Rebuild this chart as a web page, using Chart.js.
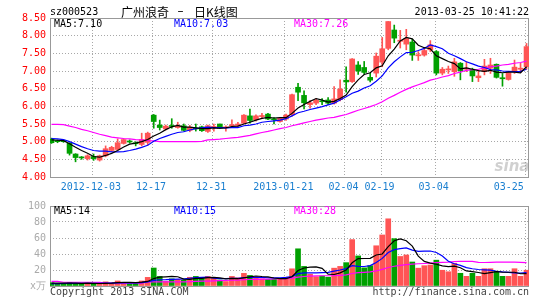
<!DOCTYPE html>
<html>
<head>
<meta charset="utf-8">
<script src="https://cdn.jsdelivr.net/npm/chart.js@4"></script>
<style>
  body { margin: 0; background: #fff; }
  #wrap { position: relative; width: 545px; height: 300px; }
  #wrap canvas { position: absolute; left: 0; }
</style>
</head>
<body>
<div id="wrap">
  <canvas id="kline" width="545" height="196" style="top:0"></canvas>
  <canvas id="volume" width="545" height="104" style="top:196px"></canvas>
</div>
<script>
const dates = [
  "2012-11-22", "2012-11-23", "2012-11-26", "2012-11-27", "2012-11-28", "2012-11-29", "2012-11-30",
  "2012-12-03", "2012-12-04", "2012-12-05", "2012-12-06", "2012-12-07", "2012-12-10", "2012-12-11",
  "2012-12-12", "2012-12-13", "2012-12-14", "2012-12-17", "2012-12-18", "2012-12-19", "2012-12-20",
  "2012-12-21", "2012-12-24", "2012-12-25", "2012-12-26", "2012-12-27", "2012-12-28", "2012-12-31",
  "2013-01-04", "2013-01-07", "2013-01-08", "2013-01-09", "2013-01-10", "2013-01-11", "2013-01-14",
  "2013-01-15", "2013-01-16", "2013-01-17", "2013-01-18", "2013-01-21", "2013-01-22", "2013-01-23",
  "2013-01-24", "2013-01-25", "2013-01-28", "2013-01-29", "2013-01-30", "2013-01-31", "2013-02-01",
  "2013-02-04", "2013-02-05", "2013-02-06", "2013-02-07", "2013-02-08", "2013-02-18", "2013-02-19",
  "2013-02-20", "2013-02-21", "2013-02-22", "2013-02-25", "2013-02-26", "2013-02-27", "2013-02-28",
  "2013-03-01", "2013-03-04", "2013-03-05", "2013-03-06", "2013-03-07", "2013-03-08", "2013-03-11",
  "2013-03-12", "2013-03-13", "2013-03-14", "2013-03-15", "2013-03-18", "2013-03-19", "2013-03-20",
  "2013-03-21", "2013-03-22", "2013-03-25"
];
const tickLabels = ["2012-12-03", "12-17", "12-31", "2013-01-21", "02-04", "02-19", "03-04", "03-25"];

const open = [5.07, 5.03, 5.01, 4.96, 4.65, 4.56, 4.52, 4.58, 4.48, 4.60,
  4.75, 4.78, 4.95, 5.02, 4.97, 4.92, 4.98, 5.75, 5.47, 5.36,
  5.45, 5.40, 5.45, 5.32, 5.38, 5.42, 5.29, 5.40, 5.50, 5.39,
  5.45, 5.46, 5.52, 5.73, 5.62, 5.71, 5.78, 5.65, 5.57, 5.64,
  5.76, 6.54, 6.31, 6.05, 6.09, 6.15, 6.18, 6.09, 6.19, 6.74,
  6.70, 7.17, 7.10, 6.82, 6.94, 7.25, 7.64, 8.16, 7.84, 7.76,
  7.82, 7.43, 7.45, 7.60, 7.55, 6.94, 7.03, 6.98, 7.22, 7.05,
  7.05, 6.81, 6.98, 7.08, 7.19, 6.81, 6.76, 6.98, 7.05, 7.12];
const close = [4.97, 5.00, 5.00, 4.67, 4.55, 4.54, 4.60, 4.52, 4.60, 4.80,
  4.84, 4.97, 5.06, 4.99, 4.94, 5.06, 5.24, 5.57, 5.40, 5.44,
  5.43, 5.45, 5.32, 5.41, 5.36, 5.31, 5.45, 5.42, 5.38, 5.41,
  5.48, 5.50, 5.75, 5.60, 5.73, 5.74, 5.64, 5.62, 5.66, 5.75,
  6.33, 6.40, 6.10, 6.10, 6.17, 6.13, 6.09, 6.21, 6.49, 6.69,
  7.34, 7.00, 6.96, 6.74, 7.42, 7.63, 8.40, 7.93, 7.87, 7.92,
  7.45, 7.46, 7.58, 7.74, 6.94, 7.05, 7.06, 7.26, 7.01, 7.08,
  6.86, 6.86, 7.14, 7.17, 6.82, 6.78, 6.95, 7.11, 7.08, 7.69];
const high = [5.10, 5.05, 5.03, 4.97, 4.66, 4.58, 4.63, 4.65, 4.62, 4.88,
  4.87, 5.08, 5.08, 5.05, 5.00, 5.24, 5.27, 5.77, 5.61, 5.47,
  5.65, 5.55, 5.50, 5.46, 5.50, 5.44, 5.47, 5.50, 5.50, 5.45,
  5.62, 5.55, 5.77, 5.92, 5.76, 5.80, 5.80, 5.68, 5.68, 5.78,
  6.35, 6.65, 6.44, 6.16, 6.22, 6.22, 6.25, 6.56, 6.75, 7.12,
  7.35, 7.27, 7.27, 6.94, 7.51, 7.95, 8.40, 8.30, 8.15, 8.18,
  7.90, 7.55, 7.62, 7.86, 7.58, 7.10, 7.14, 7.36, 7.24, 7.26,
  7.08, 7.03, 7.33, 7.36, 7.20, 6.93, 6.97, 7.31, 7.22, 7.78];
const low = [4.95, 4.97, 4.98, 4.62, 4.43, 4.50, 4.48, 4.47, 4.45, 4.57,
  4.72, 4.76, 4.93, 4.96, 4.88, 4.88, 4.90, 5.38, 5.33, 5.33,
  5.38, 5.38, 5.30, 5.28, 5.30, 5.29, 5.26, 5.30, 5.37, 5.30,
  5.44, 5.43, 5.50, 5.52, 5.58, 5.66, 5.62, 5.50, 5.55, 5.60,
  5.72, 6.16, 5.93, 5.95, 6.05, 6.05, 6.05, 6.06, 6.15, 6.40,
  6.68, 6.90, 6.91, 6.69, 6.83, 7.12, 7.60, 7.80, 7.65, 7.60,
  7.30, 7.30, 7.42, 7.55, 6.89, 6.89, 6.93, 6.85, 6.75, 6.98,
  6.70, 6.70, 6.89, 6.93, 6.80, 6.57, 6.74, 6.93, 6.95, 7.05];

const ma5 = [5.05, 5.04, 5.03, 4.94, 4.84, 4.75, 4.67, 4.58, 4.56, 4.61,
  4.67, 4.75, 4.85, 4.93, 4.96, 5.00, 5.06, 5.16, 5.24, 5.34,
  5.42, 5.46, 5.41, 5.41, 5.39, 5.37, 5.37, 5.39, 5.38, 5.39,
  5.43, 5.44, 5.50, 5.55, 5.61, 5.66, 5.69, 5.67, 5.68, 5.68,
  5.80, 5.95, 6.05, 6.14, 6.22, 6.18, 6.12, 6.14, 6.22, 6.32,
  6.56, 6.75, 6.90, 6.95, 7.09, 7.15, 7.43, 7.62, 7.85, 7.95,
  7.91, 7.73, 7.66, 7.63, 7.43, 7.35, 7.27, 7.21, 7.06, 7.09,
  7.05, 7.01, 6.99, 7.02, 6.97, 6.95, 6.97, 6.97, 6.95, 7.12];
const ma10 = [5.09, 5.08, 5.06, 5.00, 4.93, 4.86, 4.80, 4.75, 4.73, 4.73,
  4.71, 4.71, 4.72, 4.75, 4.79, 4.84, 4.90, 5.01, 5.09, 5.15,
  5.21, 5.26, 5.28, 5.33, 5.37, 5.39, 5.41, 5.40, 5.40, 5.39,
  5.40, 5.40, 5.45, 5.47, 5.50, 5.55, 5.57, 5.59, 5.61, 5.65,
  5.73, 5.82, 5.86, 5.91, 5.95, 5.99, 6.04, 6.09, 6.18, 6.27,
  6.37, 6.43, 6.52, 6.58, 6.71, 6.86, 7.09, 7.26, 7.40, 7.52,
  7.53, 7.58, 7.64, 7.74, 7.69, 7.63, 7.50, 7.43, 7.35, 7.26,
  7.20, 7.14, 7.10, 7.04, 7.03, 7.00, 6.99, 6.98, 6.99, 7.05];
const ma30 = [5.49, 5.49, 5.48, 5.44, 5.40, 5.35, 5.31, 5.26, 5.21, 5.17,
  5.13, 5.11, 5.09, 5.08, 5.06, 5.05, 5.03, 5.02, 5.00, 5.00,
  5.00, 5.00, 5.00, 5.00, 5.00, 5.01, 5.05, 5.06, 5.07, 5.09,
  5.11, 5.12, 5.15, 5.18, 5.22, 5.26, 5.29, 5.33, 5.37, 5.40,
  5.45, 5.49, 5.53, 5.57, 5.61, 5.64, 5.67, 5.69, 5.73, 5.77,
  5.83, 5.89, 5.94, 5.99, 6.05, 6.13, 6.23, 6.31, 6.40, 6.48,
  6.55, 6.61, 6.67, 6.74, 6.78, 6.83, 6.87, 6.93, 6.97, 7.02,
  7.04, 7.05, 7.09, 7.12, 7.14, 7.17, 7.19, 7.22, 7.24, 7.28];

// volume in 万
const volume = [4.0, 2.7, 3.4, 4.5, 3.4, 2.6, 3.4, 2.6, 3.4, 5.2,
  3.7, 6.3, 4.5, 3.4, 3.4, 6.3, 10.8, 22.5, 12.0, 6.0,
  9.0, 8.3, 7.5, 10.9, 12.0, 9.4, 12.0, 10.2, 7.5, 5.6,
  12.0, 10.2, 15.8, 13.2, 11.3, 9.0, 8.3, 8.3, 9.0, 11.0,
  21.5, 46.5, 24.5, 14.7, 11.7, 12.5, 11.0, 22.3, 24.5, 29.2,
  58.0, 37.6, 22.7, 25.4, 50.3, 63.8, 84.0, 59.2, 36.9, 38.8,
  30.0, 22.3, 25.4, 26.2, 32.3, 19.7, 17.8, 28.5, 15.9, 12.1,
  15.9, 12.1, 21.6, 21.6, 18.5, 12.1, 12.1, 21.6, 12.1, 19.7];
const volMa5 = [3.6, 3.6, 3.5, 3.6, 3.6, 3.3, 3.5, 3.3, 3.1, 3.4,
  3.7, 4.2, 4.6, 4.6, 4.3, 4.8, 5.7, 9.3, 11.0, 11.5,
  12.1, 11.6, 8.6, 8.3, 9.5, 9.6, 10.4, 10.9, 10.2, 8.9,
  9.5, 9.1, 10.2, 11.4, 12.5, 11.9, 11.5, 10.0, 9.2, 9.1,
  11.6, 19.3, 22.5, 23.6, 23.8, 22.0, 14.9, 14.4, 16.4, 19.9,
  29.0, 34.3, 34.4, 34.6, 38.8, 40.0, 49.2, 56.5, 58.8, 56.5,
  49.8, 37.4, 30.7, 28.5, 27.2, 25.2, 24.3, 24.9, 22.8, 18.8,
  18.0, 16.9, 15.5, 16.7, 17.9, 17.2, 17.2, 17.2, 15.3, 15.5];
const volMa10 = [3.0, 3.0, 3.1, 3.2, 3.2, 3.3, 3.3, 3.4, 3.4, 3.5,
  3.5, 3.9, 4.0, 3.9, 3.9, 4.2, 5.0, 7.0, 7.8, 7.9,
  8.4, 8.6, 8.9, 9.7, 10.5, 10.8, 11.0, 9.7, 9.3, 9.2,
  9.5, 9.7, 10.6, 10.8, 10.7, 10.7, 10.3, 10.1, 10.3, 10.8,
  11.8, 15.4, 16.3, 16.4, 16.5, 16.8, 17.1, 18.5, 20.0, 21.8,
  25.5, 24.6, 24.4, 25.5, 29.4, 34.5, 41.8, 45.5, 46.7, 47.7,
  44.9, 43.3, 43.6, 43.7, 41.9, 37.5, 30.9, 27.8, 25.7, 23.0,
  21.6, 20.6, 20.2, 19.8, 18.4, 17.6, 17.0, 16.4, 16.0, 16.7];
const volMa30 = [5.8, 5.7, 4.7, 4.7, 4.7, 4.7, 4.7, 4.7, 4.6, 3.6,
  3.6, 3.6, 3.6, 3.6, 3.6, 3.6, 5.2, 5.2, 5.2, 5.2,
  5.2, 5.2, 5.2, 5.4, 5.8, 6.0, 6.2, 6.4, 6.6, 6.9,
  7.2, 7.4, 7.8, 8.1, 8.4, 8.6, 8.7, 8.9, 9.1, 9.3,
  9.9, 11.2, 11.9, 12.3, 12.6, 12.8, 12.8, 12.8, 13.2, 14.0,
  15.6, 16.6, 17.1, 17.6, 18.8, 20.7, 23.1, 24.7, 25.7, 26.8,
  27.4, 27.8, 28.1, 28.5, 29.2, 29.6, 29.9, 30.6, 30.8, 30.8,
  30.7, 29.5, 29.4, 29.6, 29.9, 29.9, 29.9, 29.9, 29.5, 29.1];

const priceLegend = ["MA5:7.10", "MA10:7.03", "MA30:7.26"];
const volumeLegend = ["MA5:14", "MA10:15", "MA30:28"];

const UP = "#ff5555";
const DOWN = "#00a000";
const MA_COLORS = ["#000000", "#0000ff", "#ff00ff"];
const MONO = '10px "DejaVu Sans Mono", monospace';
const CJK = '12px "Noto Sans CJK SC", sans-serif';

Chart.defaults.font.family = '"DejaVu Sans Mono", monospace';
Chart.defaults.font.size = 10;

const candleColors = open.map((o, i) => (close[i] >= o ? UP : DOWN));
const tickIdx = tickLabels.map((t) => dates.findIndex((d) => d.endsWith(t)));
const xy = (arr) => arr.map((v, i) => ({ x: i, y: v }));

function text(ctx, str, x, y, color, font, align) {
    ctx.font = font || MONO;
    ctx.fillStyle = color;
    ctx.textAlign = align || "left";
    ctx.textBaseline = "middle";
    ctx.fillText(str, x, y);
}

function maLine(data, color) {
    return {
        type: "line",
        data: xy(data),
        borderColor: color,
        borderWidth: 1.2,
        pointRadius: 0,
        tension: 0,
        fill: false,
        order: 0,
    };
}

function xScale(showLabels) {
    return {
        type: "linear",
        min: -0.25,
        max: 79.41,
        offset: false,
        afterBuildTicks: (s) => {
            s.ticks = tickIdx.map((v) => ({ value: v - 0.2 }));
        },
        afterFit: (s) => {
            s.height = showLabels ? 18 : 0;
            // don't let the overhanging last label shrink the plot
            s.paddingLeft = 0;
            s.paddingRight = 0;
        },
        ticks: {
            display: showLabels,
            autoSkip: false,
            maxRotation: 0,
            padding: 4,
            labelOffset: -1.5,
            color: "#1a7fd0",
            // the last date sits at the right edge, so keep its label inside the frame
            callback: (v, k) => (k === tickLabels.length - 1 ? tickLabels[k] + "     " : tickLabels[k]),
        },
        grid: { color: "#a8a8a8", drawTicks: false, offset: false },
        border: { display: false, dash: [1, 2] },
    };
}

const frame = {
    id: "frame",
    beforeDatasetsDraw(chart) {
        const { ctx, chartArea: a } = chart;
        ctx.save();
        ctx.strokeStyle = "#999";
        ctx.lineWidth = 1;
        ctx.strokeRect(a.left + 0.5, a.top + 0.5, a.right - a.left - 1, a.bottom - a.top);
        ctx.restore();
    },
};

const klineText = {
    id: "klineText",
    afterDraw(chart) {
        const { ctx, chartArea: a } = chart;
        ctx.save();
        text(ctx, "sz000523", 50, 12, "#000");
        text(ctx, "广州浪奇", 121, 12, "#000", CJK);
        text(ctx, "–", 180.5, 12, "#000", '12px "DejaVu Sans"', "center");
        text(ctx, "日K线图", 194, 12, "#000", CJK);
        text(ctx, "2013-03-25 10:41:22", 529, 12, "#000", MONO, "right");
        priceLegend.forEach((t, k) => text(ctx, t, a.left + 4 + k * 120, a.top + 6, MA_COLORS[k]));
        text(ctx, "sina", a.right - 17, a.bottom - 10, "rgba(150,150,150,0.45)",
            'italic bold 15px "DejaVu Sans"', "center");
        ctx.restore();
    },
};

const volumeText = {
    id: "volumeText",
    afterDraw(chart) {
        const { ctx, chartArea: a } = chart;
        ctx.save();
        volumeLegend.forEach((t, k) => text(ctx, t, a.left + 4 + k * 120, a.top + 5, MA_COLORS[k]));
        text(ctx, "Copyright 2013 SINA.COM", 50, 96, "#444");
        text(ctx, "http://finance.sina.com.cn", 529, 96, "#444", MONO, "right");
        ctx.restore();
    },
};

new Chart(document.getElementById("kline"), {
    type: "bar",
    data: {
        datasets: [
            maLine(ma5, MA_COLORS[0]),
            maLine(ma10, MA_COLORS[1]),
            maLine(ma30, MA_COLORS[2]),
            {
                data: dates.map((d, i) => ({ x: i, y: [open[i], close[i]] })),
                backgroundColor: candleColors,
                barThickness: 5,
                minBarLength: 1,
                grouped: false,
                order: 1,
            },
            {
                data: dates.map((d, i) => ({ x: i, y: [low[i], high[i]] })),
                backgroundColor: candleColors,
                barThickness: 1,
                grouped: false,
                order: 2,
            },
        ],
    },
    options: {
        responsive: false,
        animation: false,
        layout: { padding: { left: 0, right: 16, top: 18, bottom: 1 } },
        plugins: { legend: { display: false }, tooltip: { enabled: false } },
        scales: {
            x: xScale(true),
            y: {
                min: 4,
                max: 8.5,
                afterFit: (s) => {
                    s.width = 50;
                },
                ticks: { stepSize: 0.5, color: "#ff0000", padding: 4, callback: (v) => v.toFixed(2) },
                grid: { color: "#a8a8a8", drawTicks: false },
                border: { display: false, dash: [1, 2] },
            },
        },
    },
    plugins: [frame, klineText],
});

new Chart(document.getElementById("volume"), {
    type: "bar",
    data: {
        datasets: [
            maLine(volMa5, MA_COLORS[0]),
            maLine(volMa10, MA_COLORS[1]),
            maLine(volMa30, MA_COLORS[2]),
            {
                data: xy(volume),
                backgroundColor: candleColors,
                barThickness: 5,
                grouped: false,
                order: 1,
            },
        ],
    },
    options: {
        responsive: false,
        animation: false,
        layout: { padding: { left: 0, right: 16, top: 5, bottom: 14 } },
        plugins: { legend: { display: false }, tooltip: { enabled: false } },
        scales: {
            x: xScale(false),
            y: {
                min: 0,
                max: 100,
                afterFit: (s) => {
                    s.width = 50;
                },
                ticks: { stepSize: 20, color: "#aaaaaa", padding: 4, callback: (v) => (v === 0 ? "x万" : v) },
                grid: { color: "#a8a8a8", drawTicks: false },
                border: { display: false, dash: [1, 2] },
            },
        },
    },
    plugins: [frame, volumeText],
});
</script>
</body>
</html>
